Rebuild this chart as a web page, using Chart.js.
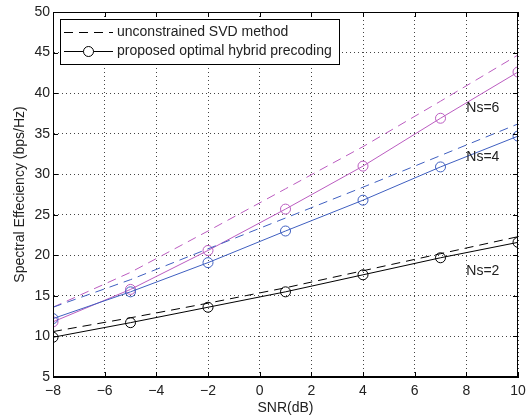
<!DOCTYPE html>
<html>
<head>
<meta charset="utf-8">
<script src="https://cdn.jsdelivr.net/npm/chart.js@4"></script>
<style>
  html, body { margin: 0; padding: 0; background: #fff; }
  #wrap { width: 532px; height: 417px; }
</style>
</head>
<body>
<div id="wrap"><canvas id="chart" width="532" height="417"></canvas></div>
<script>
// SNR points (dB)
const snr = [-8, -5, -2, 1, 4, 7, 10];

// unconstrained SVD (dashed)
const svdNs2 = [10.6, 12.3, 14.1, 16.0, 18.1, 20.2, 22.3];
const svdNs4 = [13.6, 17.0, 20.8, 24.6, 28.4, 32.3, 36.2];
const svdNs6 = [13.6, 17.9, 23.0, 28.2, 33.4, 39.0, 44.7];

// proposed hybrid precoding (circles)
const hybNs2 = [9.9, 11.7, 13.6, 15.5, 17.6, 19.7, 21.6];
const hybNs4 = [12.2, 15.5, 19.1, 23.0, 26.8, 30.9, 34.7];
const hybNs6 = [11.8, 15.8, 20.6, 25.7, 31.0, 36.9, 42.6];

const xTicks = [-8, -6, -4, -2, 0, 2, 4, 6, 8, 10];
const yTicks = [5, 10, 15, 20, 25, 30, 35, 40, 45, 50];

const labels = [
  { text: 'Ns=6', x: 8.0, y: 38.2 },
  { text: 'Ns=4', x: 8.0, y: 32.1 },
  { text: 'Ns=2', x: 8.0, y: 18.0 }
];

const legendItems = ['unconstrained SVD method', 'proposed optimal hybrid precoding'];
const xTitle = 'SNR(dB)';
const yTitle = 'Spectral Effeciency (bps/Hz)';

const BLACK = '#000000';
const BLUE = '#3f5fc0';
const PINK = '#bb5cc0';
const FONT = '"Liberation Sans", Arial, sans-serif';

function pts(ys) { return snr.map((x, i) => ({ x: x, y: ys[i] })); }

function dashed(data, color) {
  return { data: pts(data), borderColor: color, borderWidth: 1, borderDash: [9, 6],
           pointRadius: 0, fill: false, tension: 0 };
}
function marked(data, color) {
  return { data: pts(data), borderColor: color, borderWidth: 1, pointRadius: 5,
           pointBorderColor: color, pointBackgroundColor: 'rgba(0,0,0,0)',
           pointBorderWidth: 1, fill: false, tension: 0 };
}

// box, inward ticks, titles, curve labels, legend
const extras = {
  id: 'extras',
  afterDatasetsDraw(chart) {
    const { ctx, chartArea: a, scales: { x, y } } = chart;
    ctx.save();
    ctx.strokeStyle = '#000';
    ctx.lineWidth = 1;
    ctx.setLineDash([]);
    ctx.strokeRect(a.left + 0.5, a.top + 0.5, a.right - a.left - 1, a.bottom - a.top - 1);
    ctx.beginPath();
    xTicks.forEach(v => {
      const px = Math.round(x.getPixelForValue(v)) + 0.5;
      ctx.moveTo(px, a.bottom); ctx.lineTo(px, a.bottom - 5);
      ctx.moveTo(px, a.top); ctx.lineTo(px, a.top + 5);
    });
    yTicks.forEach(v => {
      const py = Math.round(y.getPixelForValue(v)) + 0.5;
      ctx.moveTo(a.left, py); ctx.lineTo(a.left + 5, py);
      ctx.moveTo(a.right, py); ctx.lineTo(a.right - 5, py);
    });
    ctx.stroke();

    ctx.fillStyle = '#222';
    ctx.font = '14px ' + FONT;

    // axis titles
    ctx.textAlign = 'center';
    ctx.textBaseline = 'alphabetic';
    ctx.fillText(xTitle, (a.left + a.right) / 2, 412);
    ctx.save();
    ctx.translate(20, (a.top + a.bottom) / 2);
    ctx.rotate(-Math.PI / 2);
    ctx.textBaseline = 'middle';
    ctx.fillText(yTitle, 0, 0);
    ctx.restore();

    ctx.textAlign = 'left';
    ctx.textBaseline = 'middle';
    labels.forEach(l => ctx.fillText(l.text, x.getPixelForValue(l.x), y.getPixelForValue(l.y)));

    // legend
    const bx = a.left + 7, by = a.top + 7, bw = 279, bh = 45;
    ctx.fillStyle = '#fff';
    ctx.fillRect(bx, by, bw, bh);
    ctx.strokeRect(bx + 0.5, by + 0.5, bw, bh);
    const r1 = by + 13.5, r2 = by + 32.5;
    ctx.beginPath();
    ctx.setLineDash([9, 6]);
    ctx.moveTo(bx + 4, r1); ctx.lineTo(bx + 53, r1);
    ctx.stroke();
    ctx.setLineDash([]);
    ctx.beginPath();
    ctx.moveTo(bx + 4, r2); ctx.lineTo(bx + 53, r2);
    ctx.stroke();
    ctx.beginPath();
    ctx.fillStyle = '#fff';
    ctx.arc(bx + 28.5, r2, 5, 0, Math.PI * 2);
    ctx.fill();
    ctx.stroke();
    ctx.fillStyle = '#222';
    ctx.fillText(legendItems[0], bx + 57, r1);
    ctx.fillText(legendItems[1], bx + 57, r2);
    ctx.restore();
  }
};

new Chart(document.getElementById('chart'), {
  type: 'line',
  data: {
    datasets: [
      dashed(svdNs2, BLACK), marked(hybNs2, BLACK),
      dashed(svdNs4, BLUE), marked(hybNs4, BLUE),
      dashed(svdNs6, PINK), marked(hybNs6, PINK)
    ]
  },
  options: {
    responsive: false,
    animation: false,
    events: [],
    layout: { padding: { left: 0, right: 14, top: 12, bottom: 0 } },
    plugins: { legend: { display: false }, tooltip: { enabled: false } },
    scales: {
      x: {
        type: 'linear', min: -8, max: 10,
        afterBuildTicks: s => { s.ticks = xTicks.map(v => ({ value: v })); },
        afterFit: s => { s.height = 40; },
        grid: { color: '#444', drawTicks: false },
        border: { display: true, color: '#000', dash: [1, 3] },
        ticks: { color: '#222', font: { family: FONT, size: 14 }, padding: 6,
                 callback: v => String(v).replace('-', '\u2212') }
      },
      y: {
        type: 'linear', min: 5, max: 50,
        afterBuildTicks: s => { s.ticks = yTicks.map(v => ({ value: v })); },
        afterFit: s => { s.width = 53; },
        grid: { color: '#444', drawTicks: false },
        border: { display: true, color: '#000', dash: [1, 3] },
        ticks: { color: '#222', font: { family: FONT, size: 14 }, padding: 3 }
      }
    }
  },
  plugins: [extras]
});
</script>
</body>
</html>
